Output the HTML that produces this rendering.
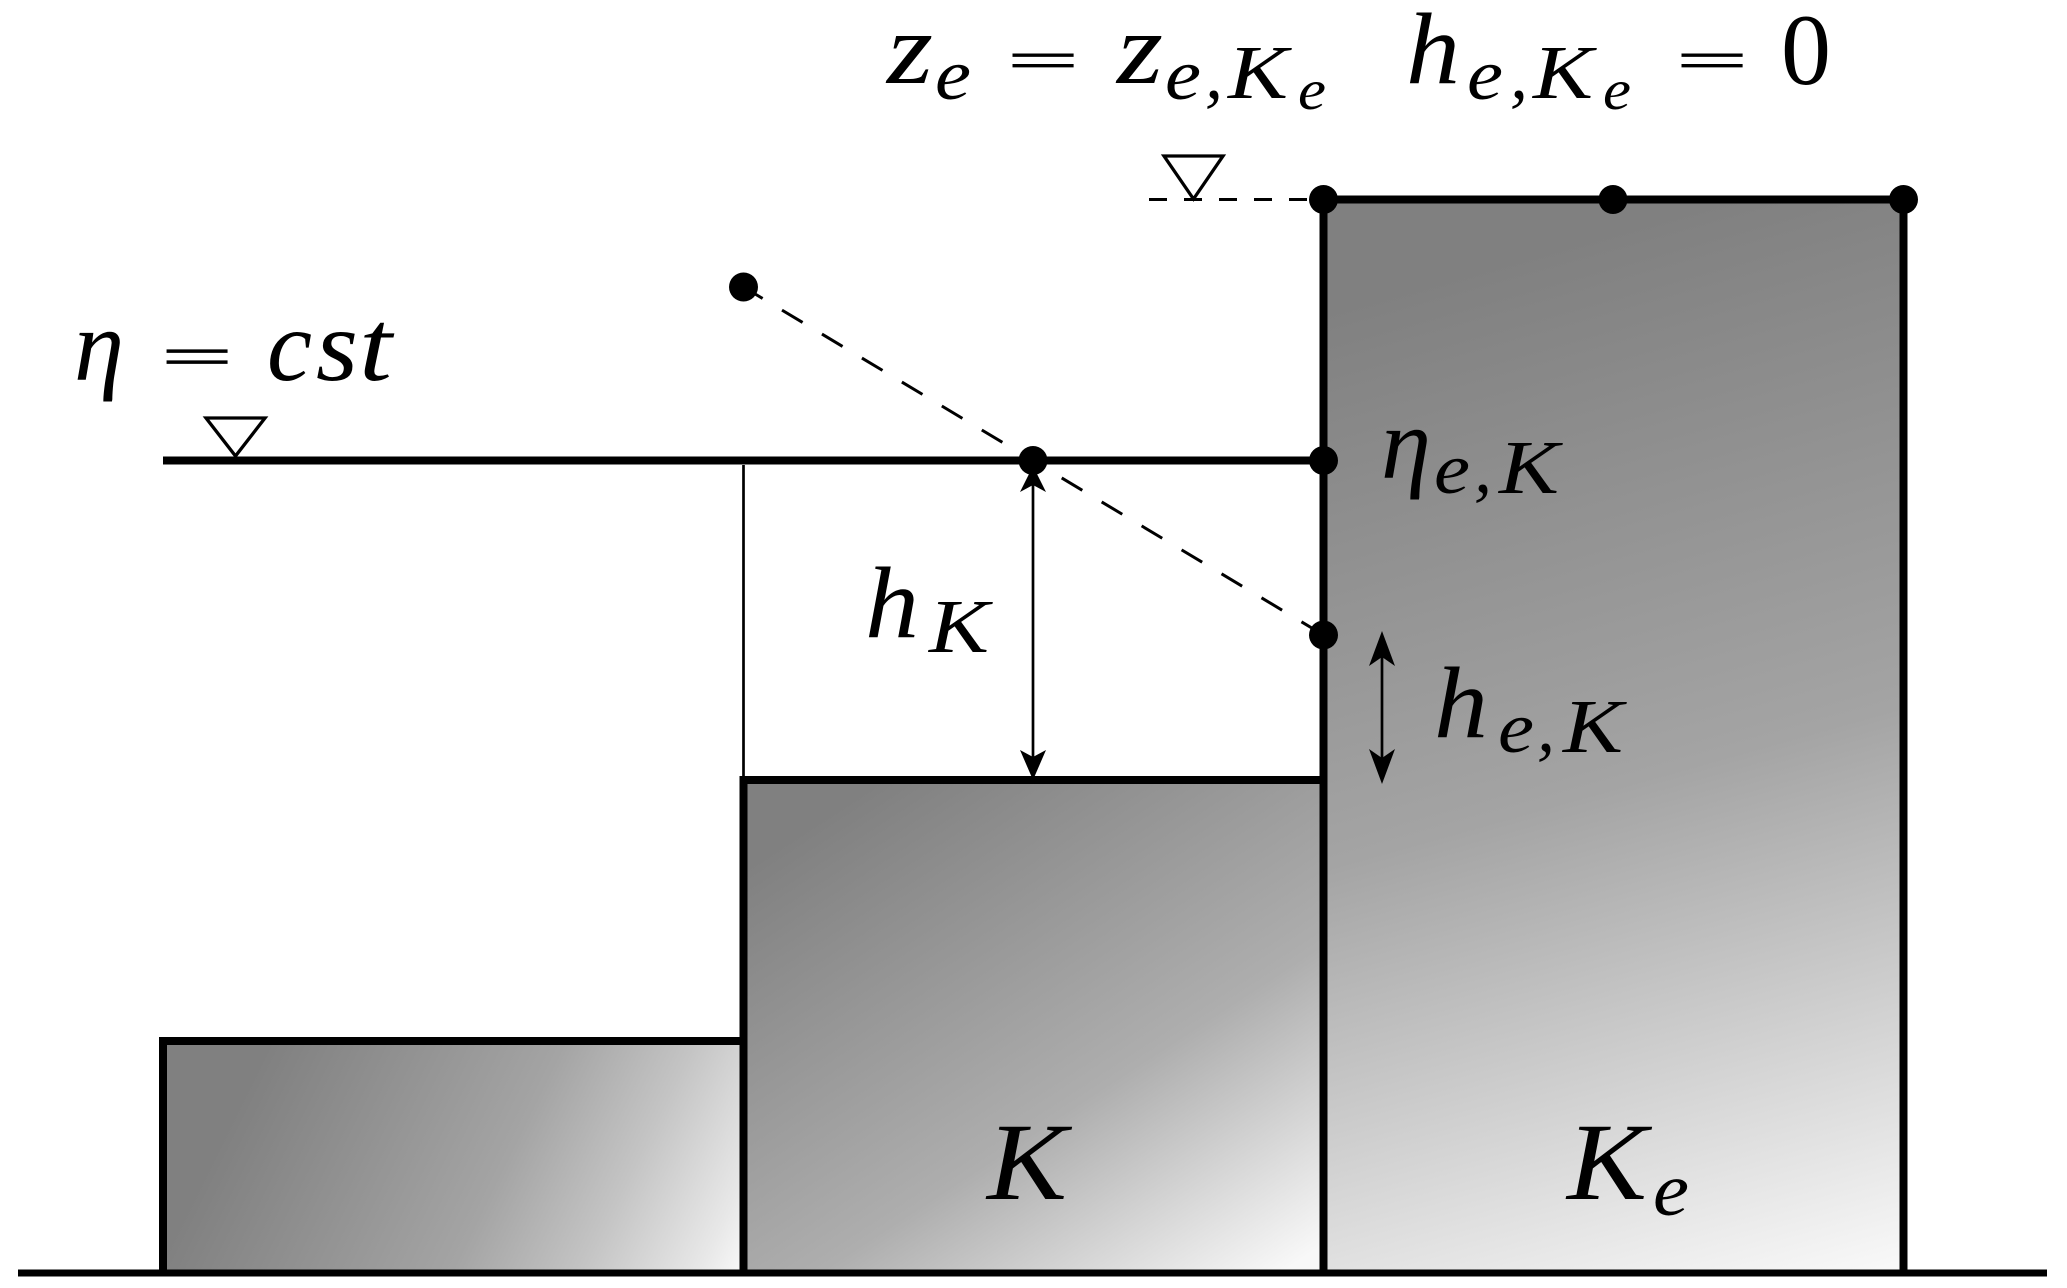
<!DOCTYPE html>
<html>
<head>
<meta charset="utf-8">
<style>
html,body{margin:0;padding:0;background:#fff;width:2067px;height:1288px;overflow:hidden}
svg{display:block}
text{font-family:"Liberation Serif",serif;font-style:italic;fill:#000}
.n{font-style:normal}
.m{font-size:102px}
.s{font-size:72px}
.k{font-size:76px}
.t{font-size:57px}
.b{font-size:110px}
.q{font-size:53px;font-style:normal;stroke:#000;stroke-width:.7px}
</style>
</head>
<body>
<svg width="2067" height="1288" viewBox="0 0 2067 1288" xmlns="http://www.w3.org/2000/svg">
<defs>
<linearGradient id="g1" gradientUnits="userSpaceOnUse" x1="270" y1="1040" x2="745" y2="1275">
<stop offset="0" stop-color="#808080"/><stop offset=".5" stop-color="#a4a4a4"/><stop offset=".72" stop-color="#c4c4c4"/><stop offset=".92" stop-color="#e8e8e8"/><stop offset="1" stop-color="#fafafa"/>
</linearGradient>
<linearGradient id="g2" gradientUnits="userSpaceOnUse" x1="880" y1="780" x2="1225" y2="1310">
<stop offset="0" stop-color="#808080"/><stop offset=".6" stop-color="#aeaeae"/><stop offset="1" stop-color="#f8f8f8"/>
</linearGradient>
<linearGradient id="g3" gradientUnits="userSpaceOnUse" x1="1489" y1="264" x2="1779" y2="1298">
<stop offset="0" stop-color="#808080"/><stop offset=".5" stop-color="#a4a4a4"/><stop offset="1" stop-color="#f8f8f8"/>
</linearGradient>
</defs>
<rect width="2067" height="1288" fill="#fff"/>
<rect x="163" y="1041" width="581" height="232" fill="url(#g1)"/>
<rect x="743.500" y="780" width="580" height="493" fill="url(#g2)"/>
<rect x="1323.500" y="199.500" width="580" height="1073" fill="url(#g3)"/>
<path d="M18 1273H2047" fill="none" stroke="#000" stroke-width="7"/>
<g fill="none" stroke="#000" stroke-width="8" stroke-linecap="butt">
<path d="M163 1273V1041H743.500"/>
<path d="M743.500 1273V780H1323.500"/>
<path d="M1323.500 1273V199.500H1903.500V1273"/>
<path d="M163 460.500H1323.500"/>
</g>
<path d="M743.500 465V776" stroke="#000" stroke-width="2.700" fill="none"/>
<path d="M1149 199.500H1320" stroke="#000" stroke-width="3" stroke-dasharray="18 17" fill="none"/>
<path d="M743.500 287L1323.500 635" stroke="#000" stroke-width="3" stroke-dasharray="24 22.600" stroke-dashoffset="1.700" fill="none"/>
<path d="M206 418H265L235.500 456Z" fill="#fff" stroke="#000" stroke-width="3.300"/>
<path d="M1164 156H1223L1193.500 199Z" fill="#fff" stroke="#000" stroke-width="3.300"/>
<g fill="#000">
<circle cx="1323.500" cy="199.500" r="14.500"/>
<circle cx="1613" cy="199.500" r="14.500"/>
<circle cx="1903.500" cy="199.500" r="14.500"/>
<circle cx="743.500" cy="287" r="14.500"/>
<circle cx="1033" cy="460.500" r="14.500"/>
<circle cx="1323.500" cy="460.500" r="14.500"/>
<circle cx="1323.500" cy="635" r="14.500"/>
</g>
<path d="M1033 480V765" stroke="#000" stroke-width="2.700" fill="none"/>
<path d="M1382 650V770" stroke="#000" stroke-width="2.700" fill="none"/>
<g fill="#000">
<path d="M1033 466L1046 492L1033 485L1020 492Z"/>
<path d="M1033 780L1020 750L1033 757L1046 750Z"/>
<path d="M1382 631L1395 666L1382 657L1369 666Z"/>
<path d="M1382 784L1369 749L1382 758L1395 749Z"/>
</g>

<text class="m" x="887" y="83" textLength="46" lengthAdjust="spacingAndGlyphs">z</text>
<text class="s" x="935" y="99" textLength="36" lengthAdjust="spacingAndGlyphs">e</text>
<text class="q" x="1007" y="78" textLength="72" lengthAdjust="spacingAndGlyphs">=</text>
<text class="m" x="1117" y="83" textLength="46" lengthAdjust="spacingAndGlyphs">z</text>
<text class="s" x="1165" y="99" textLength="36" lengthAdjust="spacingAndGlyphs">e</text>
<text class="s" x="1205" y="98">,</text>
<text class="k" x="1228" y="98" textLength="60" lengthAdjust="spacingAndGlyphs">K</text>
<text class="t" x="1298" y="109" textLength="28" lengthAdjust="spacingAndGlyphs">e</text>

<text class="m" x="1406" y="83" textLength="54" lengthAdjust="spacingAndGlyphs">h</text>
<text class="s" x="1467" y="99" textLength="36" lengthAdjust="spacingAndGlyphs">e</text>
<text class="s" x="1510" y="98">,</text>
<text class="k" x="1533" y="98" textLength="60" lengthAdjust="spacingAndGlyphs">K</text>
<text class="t" x="1603" y="109" textLength="28" lengthAdjust="spacingAndGlyphs">e</text>
<text class="q" x="1676" y="78" textLength="72" lengthAdjust="spacingAndGlyphs">=</text>
<text class="m n" x="1781" y="84" textLength="50" lengthAdjust="spacingAndGlyphs">0</text>

<text class="m" x="74" y="380" textLength="50" lengthAdjust="spacingAndGlyphs">η</text>
<text class="q" x="161" y="375" textLength="72" lengthAdjust="spacingAndGlyphs" style="font-size:55px">=</text>
<text class="m" x="267" y="380" textLength="45" lengthAdjust="spacingAndGlyphs">c</text>
<text class="m" x="316" y="380" textLength="42" lengthAdjust="spacingAndGlyphs">s</text>
<text class="m" x="359" y="380" textLength="33" lengthAdjust="spacingAndGlyphs">t</text>

<text class="m" x="1381" y="478" textLength="50" lengthAdjust="spacingAndGlyphs">η</text>
<text class="s" x="1434" y="493" textLength="36" lengthAdjust="spacingAndGlyphs">e</text>
<text class="s" x="1474" y="492">,</text>
<text class="k" x="1499" y="493" textLength="60" lengthAdjust="spacingAndGlyphs">K</text>

<text class="m" x="865" y="637" textLength="54" lengthAdjust="spacingAndGlyphs">h</text>
<text class="k" x="929" y="652" textLength="60" lengthAdjust="spacingAndGlyphs">K</text>

<text class="m" x="1434" y="737" textLength="54" lengthAdjust="spacingAndGlyphs">h</text>
<text class="s" x="1498" y="752" textLength="36" lengthAdjust="spacingAndGlyphs">e</text>
<text class="s" x="1537" y="751">,</text>
<text class="k" x="1563" y="752" textLength="60" lengthAdjust="spacingAndGlyphs">K</text>

<text class="b" x="987" y="1199" textLength="80" lengthAdjust="spacingAndGlyphs">K</text>
<text class="b" x="1567" y="1199" textLength="80" lengthAdjust="spacingAndGlyphs">K</text>
<text class="s" x="1653" y="1215" textLength="36" lengthAdjust="spacingAndGlyphs" style="font-size:75px">e</text>
</svg>
</body>
</html>
